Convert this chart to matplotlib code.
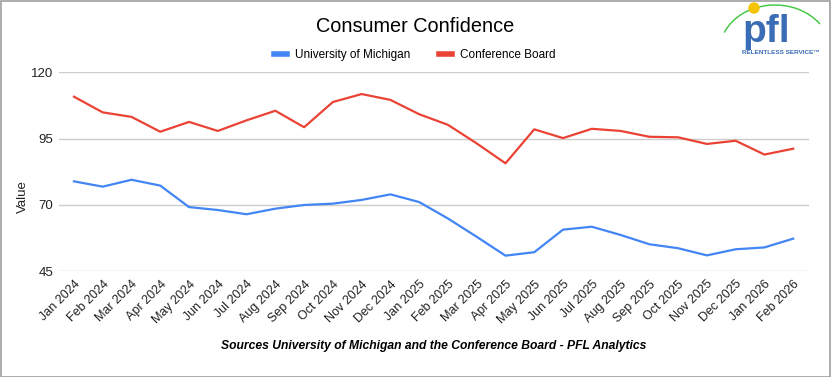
import matplotlib
matplotlib.use("Agg")
import matplotlib.pyplot as plt
from matplotlib.patches import Rectangle, Circle, Arc
import numpy as np

plt.rcParams['font.family'] = ['Liberation Sans', 'DejaVu Sans']

months = ["Jan 2024", "Feb 2024", "Mar 2024", "Apr 2024", "May 2024", "Jun 2024",
          "Jul 2024", "Aug 2024", "Sep 2024", "Oct 2024", "Nov 2024", "Dec 2024",
          "Jan 2025", "Feb 2025", "Mar 2025", "Apr 2025", "May 2025", "Jun 2025",
          "Jul 2025", "Aug 2025", "Sep 2025", "Oct 2025", "Nov 2025", "Dec 2025",
          "Jan 2026", "Feb 2026"]
umich = [78.9, 76.9, 79.5, 77.3, 69.2, 68.1, 66.5, 68.6, 70.0, 70.5, 71.9, 74.0,
         71.1, 64.9, 58.0, 50.9, 52.2, 60.7, 61.8, 58.7, 55.2, 53.7, 51.0, 53.3,
         54.0, 57.3]
conf_board = [110.8, 104.9, 103.2, 97.6, 101.3, 97.9, 101.9, 105.5, 99.3, 108.8,
              111.8, 109.6, 104.2, 100.2, 93.2, 85.7, 98.5, 95.2, 98.7, 97.9,
              95.7, 95.5, 93.0, 94.2, 89.0, 91.2]
yticks = [45, 70, 95, 120]

W, H = 831, 377
fig = plt.figure(figsize=(W / 100, H / 100), dpi=100)
ax = fig.add_axes([59 / W, 1 - 271.3 / H, (809 - 59) / W, (271.3 - 72.3) / H])

x = np.arange(len(months))
ax.plot(x, umich, color="#4285F4", lw=1.6, label="University of Michigan", solid_joinstyle="round")
ax.plot(x, conf_board, color="#EA4335", lw=1.6, label="Conference Board", solid_joinstyle="round")

ax.set_ylim(45, 120)
ax.set_xlim(-0.52, 25.55)
ax.set_yticks(yticks)
ax.set_yticklabels([str(v) for v in yticks], fontsize=9.5, color="#222222")
ax.set_xticks(x)
ax.set_xticklabels(months, rotation=45, ha="right", rotation_mode="anchor", fontsize=9, color="#222222")
ax.tick_params(axis="both", length=0, pad=4)
ax.tick_params(axis="x", pad=5)
ax.grid(axis="y", color="#cccccc", lw=1)
ax.set_axisbelow(True)
for s in ax.spines.values():
    s.set_visible(False)

fig.text(23 / W, 1 - 197 / H, "Value", rotation=90, ha="center", va="center", fontsize=9.5, color="#222222")
fig.text(415 / W, 1 - 27 / H, "Consumer Confidence", ha="center", va="center", fontsize=14.3, color="#000000")
leg = fig.legend(loc="center", bbox_to_anchor=(415 / W, 1 - 55 / H), ncol=2, frameon=False,
                 fontsize=8.5, handlelength=1.1, handletextpad=0.7, columnspacing=2.4)
for h in leg.get_lines():
    h.set_linewidth(4)
fig.text(433.5 / W, 1 - 346 / H, "Sources University of Michigan and the Conference Board - PFL Analytics",
         ha="center", va="center", fontsize=8.7, fontweight="bold", fontstyle="italic", color="#000000")

# figure border
fig.patches.append(Rectangle((0.5 / W, 0.5 / H), (W - 1.5) / W, (H - 1.5) / H, transform=fig.transFigure,
                             fill=False, edgecolor="#9e9e9e", lw=1.2))

# logo approximation
lax = fig.add_axes([720 / W, 1 - 60 / H, 111 / W, 60 / H])
lax.set_xlim(0, 111)
lax.set_ylim(60, 0)
lax.axis("off")
lax.add_patch(Arc((55, 50), 110, 90, theta1=199, theta2=330, color="#3cc63c", lw=1.0))
lax.text(46, 42, "pfl", ha="center", va="baseline", fontsize=28, fontweight="bold", color="#3a6db5",
         family=["Liberation Sans"], zorder=3)
lax.add_patch(Circle((34, 8), 5, color="#f5c400", zorder=4))
lax.text(61, 52.5, "RELENTLESS SERVICE\u2122", ha="center", va="center", fontsize=4.6, fontweight="bold",
         color="#3a6db5", zorder=5,
         bbox=dict(facecolor="white", edgecolor="none", pad=0.3))

fig.savefig("out.png", dpi=100, facecolor="white")
